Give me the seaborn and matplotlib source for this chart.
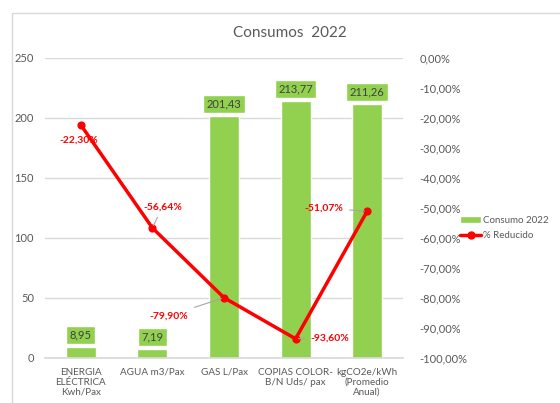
import numpy as np
import pandas as pd
import matplotlib
matplotlib.use("Agg")
import matplotlib.pyplot as plt
import seaborn as sns
from matplotlib.patches import Rectangle
from matplotlib.lines import Line2D
from matplotlib.ticker import FuncFormatter

# data
categories = ["ENERGIA\nELÉCTRICA\nKwh/Pax", "AGUA m3/Pax", "GAS L/Pax",
              "COPIAS COLOR-\nB/N Uds/ pax", "kgCO2e/kWh\n(Promedio\nAnual)"]
consumo_2022 = [8.95, 7.19, 201.43, 213.77, 211.26]
pct_reducido = [-0.2230, -0.5664, -0.7990, -0.9360, -0.5107]
# label offsets (pixels) for the percentage labels
pct_offsets = [(-2, -15), (10, 21), (-55, -18), (34, 1), (-43, 3)]

GREEN = "#92D050"
GREY = "#595959"

sns.set_theme(style="white")
plt.rcParams["font.family"] = ["Lato", "DejaVu Sans"]

fig = plt.figure(figsize=(5.6, 4.03), dpi=100)
W, H = 560, 403
ax = fig.add_axes([45 / W, (H - 358) / H, 358 / W, 300 / H])

df = pd.DataFrame({"cat": categories, "consumo": consumo_2022, "pct": pct_reducido})

sns.barplot(data=df, x="cat", y="consumo", color=GREEN, saturation=1,
            width=0.42, ax=ax, zorder=2)
ax.set_ylim(0, 250)
ax.set_yticks(np.arange(0, 251, 50))
ax.yaxis.grid(True, color="#d9d9d9", linewidth=1)
ax.set_axisbelow(True)
for s in ["top", "right", "left"]:
    ax.spines[s].set_visible(False)
ax.spines["bottom"].set_color("#d9d9d9")
ax.set_xlabel("")
ax.set_ylabel("")
ax.tick_params(axis="both", length=0, colors=GREY, labelsize=8)
ax.tick_params(axis="y", pad=8)
ax.tick_params(axis="x", pad=7, labelsize=7.1)
for t in ax.get_xticklabels():
    t.set_linespacing(1.12)

labels = [f"{v:.2f}".replace(".", ",") for v in consumo_2022]
ax.bar_label(ax.containers[0], labels=labels, padding=5, color="#404040", fontsize=8,
             bbox=dict(boxstyle="square,pad=0.3", facecolor=GREEN, edgecolor="white", lw=1))

ax2 = ax.twinx()
sns.pointplot(data=df, x="cat", y="pct", color="red", markers="o", markersize=4,
              linewidth=2.5, ax=ax2)
ax2.set_ylim(-1, 0)
ax2.set_yticks(np.arange(-1, 0.001, 0.1))
ax2.yaxis.set_major_formatter(FuncFormatter(lambda v, p: f"{v * 100:.2f}%".replace(".", ",").replace("-0,00", "0,00")))
for s in ["top", "right", "left", "bottom"]:
    ax2.spines[s].set_visible(False)
ax2.set_ylabel("")
ax2.set_xlabel("")
ax2.tick_params(axis="y", length=0, colors=GREY, labelsize=8, pad=12)

for i, (v, off) in enumerate(zip(pct_reducido, pct_offsets)):
    txt = f"{v * 100:.2f}%".replace(".", ",")
    ax2.annotate(txt, xy=(i, v), xytext=off, textcoords="offset pixels",
                 ha="center", va="center", color="red", fontsize=7.5, fontweight="bold",
                 arrowprops=None if i == 0 else dict(arrowstyle="-", color="#a6a6a6", lw=0.8,
                                                     shrinkA=2, shrinkB=2))

fig.text(290 / W, 1 - 33 / H, "Consumos  2022", ha="center", va="center",
         fontsize=11, color=GREY)

handles = [Rectangle((0, 0), 1, 1, facecolor=GREEN),
           Line2D([0], [0], color="red", lw=2.5, marker="o", markersize=5)]
fig.legend(handles, ["Consumo 2022", "% Reducido"], loc="center left",
           bbox_to_anchor=(460 / W, 1 - 228 / H), frameon=False, fontsize=7,
           labelcolor=GREY, handlelength=2.2, handletextpad=0.15, labelspacing=0.7,
           borderpad=0, borderaxespad=0)

fig.patches.append(Rectangle((12 / W, -0.1), 1.2, 1 - 13 / H + 0.1, transform=fig.transFigure,
                             fill=False, edgecolor="#d9d9d9", lw=1))

fig.savefig("out.png", dpi=100)
